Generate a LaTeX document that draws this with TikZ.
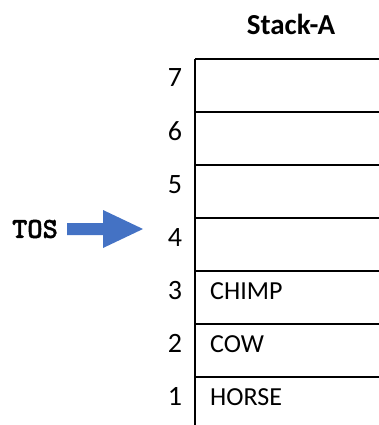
\documentclass[tikz,border=0pt]{standalone}
\usepackage{fontspec}
\setmainfont{Carlito}
\newfontfamily\tosfont{lmmonolt10-bold}[Extension=.otf,FakeBold=1.5]
\definecolor{arrowblue}{HTML}{4472C4}

\begin{document}
\begin{tikzpicture}[x=1pt,y=-1pt,
  num/.style={anchor=base,inner sep=0pt,font=\fontsize{28}{28}\selectfont},
  item/.style={anchor=base west,inner sep=0pt,font=\fontsize{26}{26}\selectfont},
  wall/.style={line width=2.5pt}]

\useasboundingbox (0,0) rectangle (379,425);
  \node[anchor=base,inner sep=0pt,font=\fontsize{29}{29}\selectfont\bfseries] (title) at (291,35) {Stack-A};

  % stack slots
  \draw[wall] (195,59) -- (195,425);
  \draw[wall] (195,59) -- (379,59);
  \draw[wall] (195,112) -- (379,112);
  \draw[wall] (195,165) -- (379,165);
  \draw[wall] (195,218) -- (379,218);
  \draw[wall] (195,271) -- (379,271);
  \draw[wall] (195,324) -- (379,324);
  \draw[wall] (195,377) -- (379,377);

  \node[num] (n7) at (175,87) {7};
  \node[num] (n6) at (175,140) {6};
  \node[num] (n5) at (175,193) {5};
  \node[num] (n4) at (175,246) {4};
  \node[num] (n3) at (175,299) {3};
  \node[num] (n2) at (175,352) {2};
  \node[num] (n1) at (175,405) {1};

  \node[item] (i3) at (210,299) {CHIMP};
  \node[item] (i2) at (210,352) {COW};
  \node[item] (i1) at (210,405) {HORSE};

  % top of stack pointer
  \node[inner sep=0pt,font=\tosfont\fontsize{29}{29}\selectfont] (tos) at (35,229) {TOS};
  \fill[arrowblue] (67,223) -- (103,223) -- (103,210) -- (143,229)
    -- (103,248) -- (103,235) -- (67,235) -- cycle;
\end{tikzpicture}
\end{document}
